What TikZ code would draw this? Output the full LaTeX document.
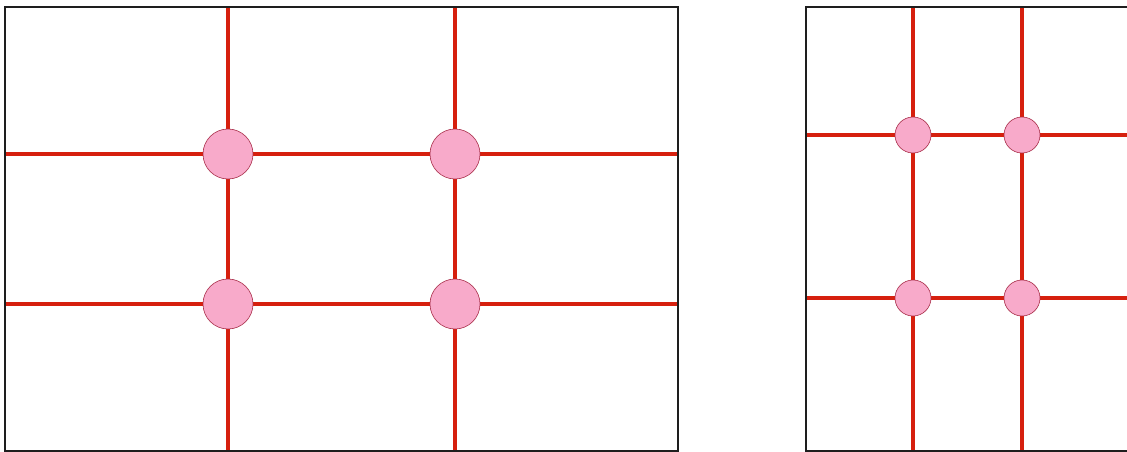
\documentclass[tikz,border=0pt]{standalone}
\usepackage{tikz}
\usetikzlibrary{calc}
\definecolor{gridred}{RGB}{214, 32, 14}
\definecolor{dotpink}{RGB}{248, 170, 202}
\definecolor{dotborder}{RGB}{168, 44, 72}
\definecolor{frameblack}{RGB}{30, 30, 30}

\begin{document}
\begin{tikzpicture}[
    x=1pt, y=-1pt,
    frame/.style={draw=frameblack, line width=2pt},
    gridline/.style={draw=gridred, line width=4pt},
    bigdot/.style={circle, draw=dotborder, fill=dotpink, line width=0.6pt, minimum size=50pt, inner sep=0pt},
    smalldot/.style={circle, draw=dotborder, fill=dotpink, line width=0.6pt, minimum size=36pt, inner sep=0pt}
]
\clip (0,0) rectangle (1127,452);
\fill[white] (0,0) rectangle (1127,452);

% Left frame (landscape)
\coordinate (lnw) at (5,7);
\coordinate (lse) at (678,451);
\coordinate (lt1) at (228,7);   \coordinate (lb1) at (228,451);
\coordinate (lt2) at (455,7);   \coordinate (lb2) at (455,451);
\coordinate (ll1) at (5,154);   \coordinate (lr1) at (678,154);
\coordinate (ll2) at (5,304);   \coordinate (lr2) at (678,304);

\draw[gridline] (lt1) -- (lb1);
\draw[gridline] (lt2) -- (lb2);
\draw[gridline] (ll1) -- (lr1);
\draw[gridline] (ll2) -- (lr2);
\draw[frame] (lnw) rectangle (lse);

\node[bigdot] (lp11) at (lt1 |- ll1) {};
\node[bigdot] (lp21) at (lt2 |- ll1) {};
\node[bigdot] (lp12) at (lt1 |- ll2) {};
\node[bigdot] (lp22) at (lt2 |- ll2) {};

% Right frame (cut at the edge)
\coordinate (rnw) at (806,7);
\coordinate (rse) at (1140,451);
\coordinate (rt1) at (913,7);   \coordinate (rb1) at (913,451);
\coordinate (rt2) at (1022,7);  \coordinate (rb2) at (1022,451);
\coordinate (rl1) at (806,135); \coordinate (rr1) at (1140,135);
\coordinate (rl2) at (806,298); \coordinate (rr2) at (1140,298);

\draw[gridline, line width=3.5pt] (rt1) -- (rb1);
\draw[gridline, line width=3.5pt] (rt2) -- (rb2);
\draw[gridline, line width=3.5pt] (rl1) -- (rr1);
\draw[gridline, line width=3.5pt] (rl2) -- (rr2);
\draw[frame] (rnw) rectangle (rse);

\node[smalldot] (rp11) at (rt1 |- rl1) {};
\node[smalldot] (rp21) at (rt2 |- rl1) {};
\node[smalldot] (rp12) at (rt1 |- rl2) {};
\node[smalldot] (rp22) at (rt2 |- rl2) {};

\end{tikzpicture}
\end{document}
